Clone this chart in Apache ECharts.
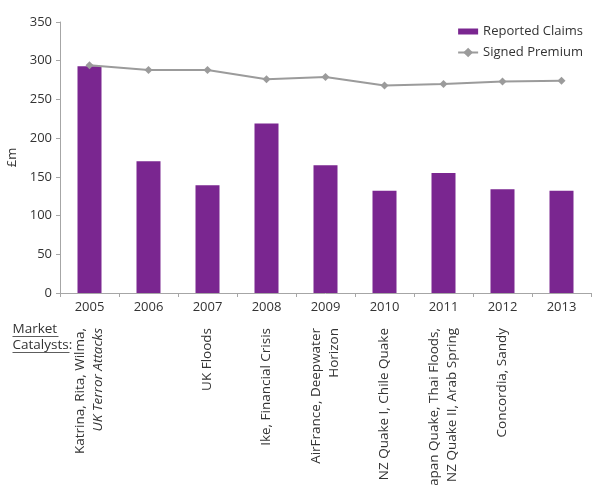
<!DOCTYPE html>
<html><head><meta charset="utf-8">
<script src="https://cdn.jsdelivr.net/npm/echarts@6/dist/echarts.min.js"></script>
<style>html,body{margin:0;padding:0;background:#fff}#c{width:592px;height:485px}</style>
</head><body><div id="c"></div>
<script>
var years = ['2005','2006','2007','2008','2009','2010','2011','2012','2013'];
var reportedClaims = [293, 170, 139, 219, 165, 132, 155, 134, 132];
var signedPremium = [294, 288, 288, 276, 279, 268, 270, 273, 274];
var catalysts = [
  ['Katrina, Rita, Wilma,', '{i|UK Terror Attacks}'],
  [''],
  ['UK Floods'],
  ['Ike, Financial Crisis'],
  ['AirFrance, Deepwater', 'Horizon'],
  ['NZ Quake I, Chile Quake'],
  ['Japan Quake, Thai Floods,', 'NZ Quake II, Arab Spring'],
  ['Concordia, Sandy'],
  ['']
];
var yTicks = {min: 0, max: 350, interval: 50};

var FONT = 'Open Sans';
var chart = echarts.init(document.getElementById('c'), null, {renderer: 'canvas'});
chart.setOption({
  animation: false,
  textStyle: {fontFamily: FONT},
  grid: {left: 60, right: 1, top: 22, bottom: 192, containLabel: false, outerBoundsMode: 'none'},
  legend: {
    right: 4, top: 20, orient: 'vertical', itemGap: 8,
    itemWidth: 20, itemHeight: 12,
    textStyle: {fontFamily: FONT, fontSize: 13, color: '#333'},
    data: [
      {name: 'Reported Claims', icon: 'path://M0,3 L20,3 L20,9 L0,9 Z'},
      {name: 'Signed Premium'}
    ]
  },
  xAxis: [{
    type: 'category', data: years, position: 'bottom',
    axisLine: {lineStyle: {color: '#a6a6a6', width: 1}},
    axisTick: {show: true, length: 4, lineStyle: {color: '#a6a6a6'}},
    axisLabel: {fontFamily: FONT, fontSize: 13, color: '#333', margin: 8}
  }, {
    type: 'category', data: years, position: 'bottom', offset: 27,
    axisLine: {show: false}, axisTick: {show: false},
    axisLabel: {
      interval: 0, rotate: 90, margin: 8, fontFamily: FONT, fontSize: 13.5, color: '#333',
      lineHeight: 18,
      formatter: function (v, idx) { return catalysts[idx].join('\n'); },
      rich: {i: {fontStyle: 'italic', fontFamily: FONT, fontSize: 13.5, color: '#333', lineHeight: 18}}
    }
  }],
  yAxis: {
    type: 'value', min: yTicks.min, max: yTicks.max, interval: yTicks.interval,
    name: '£m', nameLocation: 'middle', nameRotate: 90, nameGap: 33,
    nameTextStyle: {fontFamily: FONT, fontSize: 13, color: '#333'},
    axisLine: {show: true, lineStyle: {color: '#a6a6a6'}},
    axisTick: {show: true, length: 4, lineStyle: {color: '#a6a6a6'}},
    splitLine: {show: false},
    axisLabel: {fontFamily: FONT, fontSize: 13, color: '#333', margin: 8}
  },
  series: [{
    name: 'Reported Claims', type: 'bar', data: reportedClaims, barWidth: 24,
    itemStyle: {color: '#7a2690'}
  }, {
    name: 'Signed Premium', type: 'line', data: signedPremium,
    symbol: 'diamond', symbolSize: 8,
    lineStyle: {color: '#9b9b9b', width: 2},
    itemStyle: {color: '#9b9b9b'}
  }],
  graphic: [{
    type: 'group', left: 10, top: 321,
    children: [
      {type: 'text', style: {text: 'Market\nCatalysts:', font: '13.5px "Open Sans"', fill: '#333', lineHeight: 16}},
      {type: 'line', shape: {x1: 0, y1: 15.5, x2: 46, y2: 15.5}, style: {stroke: '#333', lineWidth: 0.8}},
      {type: 'line', shape: {x1: 0, y1: 31.5, x2: 57, y2: 31.5}, style: {stroke: '#333', lineWidth: 0.8}}
    ]
  }]
});
</script></body></html>
